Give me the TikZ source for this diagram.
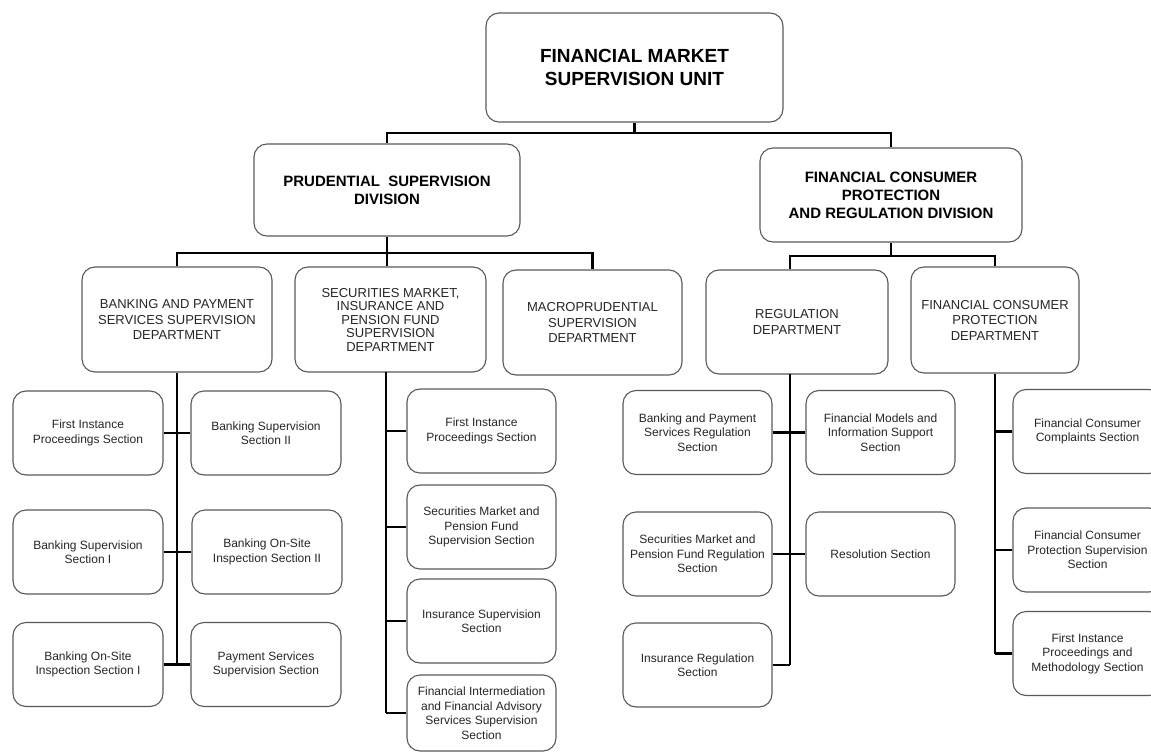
\documentclass[tikz,border=0pt]{standalone}
\usepackage{fontspec}
\setmainfont{Liberation Sans}
\usepackage{tikz}

\tikzset{
  unit/.style={draw=black!65, line width=1.1pt, rounded corners=13pt, align=center, text=black!85, inner sep=2pt},
  head/.style={unit, text=black, font=\bfseries\fontsize{15}{18}\selectfont},
  dept/.style={unit, minimum height=105pt, font=\fontsize{13}{15.5}\selectfont},
  sect/.style={unit, minimum width=150pt, minimum height=84pt, font=\fontsize{12}{14.5}\selectfont},
  conn/.style={line width=2.9pt},
}

\begin{document}
\begin{tikzpicture}[x=1pt, y=-1pt]
    \useasboundingbox (0,0) rectangle (1151,754);
    % unit and divisions
    \node[unit, text=black, minimum width=297pt, minimum height=109pt, font=\bfseries\fontsize{19}{23}\selectfont] (fmsu) at (634.5,67.5) {FINANCIAL MARKET\\SUPERVISION UNIT};
    \node[head, minimum width=266pt, minimum height=92pt] (psd) at (387,190) {PRUDENTIAL\ \ SUPERVISION\\DIVISION};
    \node[head, minimum width=262pt, minimum height=94pt] (fcprd) at (891,195) {FINANCIAL CONSUMER\\PROTECTION\\AND REGULATION DIVISION};
    % departments
    \node[dept, minimum width=190pt] (bpssd) at (177,319.5) {BANKING AND PAYMENT\\SERVICES SUPERVISION\\DEPARTMENT};
    \node[dept, minimum width=191pt, font=\fontsize{13}{13.5}\selectfont] (smipfsd) at (390.5,319.5) {SECURITIES MARKET,\\INSURANCE AND\\PENSION FUND\\SUPERVISION\\DEPARTMENT};
    \node[dept, minimum width=179pt] (msd) at (592.5,322.5) {MACROPRUDENTIAL\\SUPERVISION\\DEPARTMENT};
    \node[dept, minimum width=182pt, minimum height=104pt] (rd) at (797,322) {REGULATION\\DEPARTMENT};
    \node[dept, minimum width=168pt, minimum height=106pt] (fcpd) at (995,320) {FINANCIAL CONSUMER\\PROTECTION\\DEPARTMENT};
    % banking and payment sections
    \node[sect] (bfips) at (88,433) {First Instance\\Proceedings Section};
    \node[sect] (bbs2) at (266,433) {Banking Supervision\\Section II};
    \node[sect] (bbs1) at (88,552) {Banking Supervision\\Section I};
    \node[sect] (bbosi2) at (267,552) {Banking On-Site\\Inspection Section II};
    \node[sect] (bbosi1) at (88,664.5) {Banking On-Site\\Inspection Section I};
    \node[sect] (bpss) at (266,664.5) {Payment Services\\Supervision Section};
    % securities sections
    \node[sect, minimum width=149pt] (sfips) at (481.5,431) {First Instance\\Proceedings Section};
    \node[sect, minimum width=149pt] (smpfs) at (481.5,527) {Securities Market and\\Pension Fund\\Supervision Section};
    \node[sect, minimum width=149pt] (sis) at (481.5,621) {Insurance Supervision\\Section};
    \node[sect, minimum width=149pt, minimum height=76pt] (sfifas) at (481.5,713) {Financial Intermediation\\and Financial Advisory\\Services Supervision\\Section};
    % regulation sections
    \node[sect, minimum width=149pt] (rbpsrs) at (697.5,432.5) {Banking and Payment\\Services Regulation\\Section};
    \node[sect, minimum width=149pt] (rfmiss) at (880.5,432.5) {Financial Models and\\Information Support\\Section};
    \node[sect, minimum width=149pt] (rsmpfrs) at (697.5,554) {Securities Market and\\Pension Fund Regulation\\Section};
    \node[sect, minimum width=149pt] (rrs) at (880.5,554) {Resolution Section};
    \node[sect, minimum width=149pt] (rirs) at (697.5,665) {Insurance Regulation\\Section};
    % consumer protection sections
    \node[sect, minimum width=149pt] (fcs) at (1087.5,431.5) {Financial Consumer\\Complaints Section};
    \node[sect, minimum width=149pt] (fcpss) at (1087.5,550) {Financial Consumer\\Protection Supervision\\Section};
    \node[sect, minimum width=149pt] (ffipms) at (1087.5,653.5) {First Instance\\Proceedings and\\Methodology Section};
    % buses
    \coordinate (fmsu-bus) at (634.5,133);
    \coordinate (psd-bus) at (387,253);
    \coordinate (fcprd-bus) at (891,256);
    \coordinate (smi-c) at (386,372);
    \coordinate (rd-c) at (790,374);
    \draw[conn] (fmsu.south) -- (fmsu-bus);
    \draw[conn] (psd.north) |- (fmsu-bus) -| (fcprd.north);
    \draw[conn] (psd.south) -- (psd.south |- smipfsd.north);
    \draw[conn] (bpssd.north) |- (psd-bus) -| (msd.north);
    \draw[conn] (fcprd.south) -- (fcprd-bus);
    \draw[conn] (rd-c |- rd.north) |- (fcprd-bus) -| (fcpd.north);
    % columns
    \draw[conn] (bpssd.south) -- (bpssd.south |- bbosi1.east);
    \draw[conn] (bfips.east) -- (bbs2.west);
    \draw[conn] (bbs1.east) -- (bbosi2.west);
    \draw[conn] (bbosi1.east) -- (bpss.west);
    \draw[conn] (smi-c) -- (smi-c |- sfifas.west);
    \foreach \s in {sfips,smpfs,sis,sfifas}
      \draw[conn] (\s.west) -- (\s.west -| smi-c);
    \draw[conn] (rd-c) -- (rd-c |- rirs.east);
    \draw[conn] (rbpsrs.east) -- (rfmiss.west);
    \draw[conn] (rsmpfrs.east) -- (rrs.west);
    \draw[conn] (rirs.east) -- (rirs.east -| rd-c);
    \draw[conn] (fcpd.south) -- (fcpd.south |- ffipms.west);
    \foreach \s in {fcs,fcpss,ffipms}
      \draw[conn] (\s.west) -- (\s.west -| fcpd.south);
\end{tikzpicture}
\end{document}
